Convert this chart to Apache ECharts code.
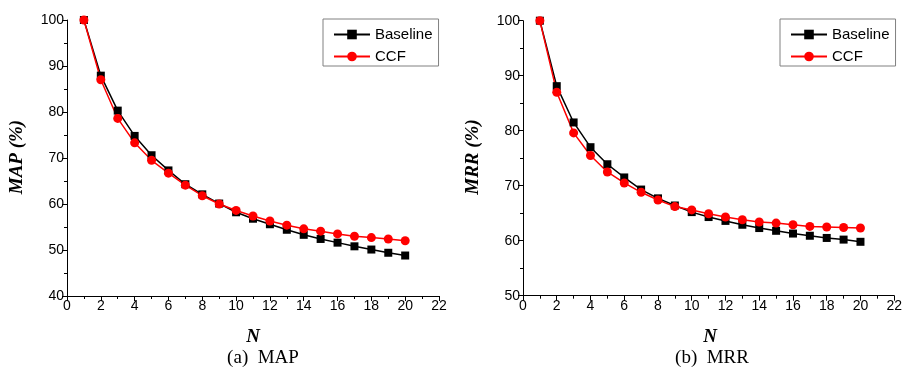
<!DOCTYPE html>
<html>
<head>
<meta charset="utf-8">
<script src="https://cdn.jsdelivr.net/npm/echarts@6/dist/echarts.min.js"></script>
<style>
html,body{margin:0;padding:0;background:#fff;}
#c{width:905px;height:373px;}
</style>
</head>
<body>
<div id="c"></div>
<script>
var nValues = [1,2,3,4,5,6,7,8,9,10,11,12,13,14,15,16,17,18,19,20];
var mapBaseline = [100,87.9,80.3,74.8,70.6,67.3,64.3,62.1,60.1,58.2,56.8,55.6,54.4,53.3,52.4,51.6,50.8,50.1,49.4,48.8];
var mapCCF      = [100,87.0,78.6,73.3,69.5,66.7,64.1,61.8,60.0,58.6,57.4,56.3,55.4,54.6,54.1,53.5,53.0,52.7,52.4,52.0];
var mrrBaseline = [100,88.1,81.5,77.0,73.9,71.5,69.3,67.7,66.4,65.2,64.3,63.6,62.9,62.3,61.8,61.3,60.9,60.5,60.2,59.8];
var mrrCCF      = [100,87.0,79.6,75.5,72.5,70.5,68.8,67.4,66.2,65.6,64.9,64.3,63.8,63.4,63.2,62.9,62.6,62.5,62.4,62.3];
var xTicks = {min:0, max:22, interval:2};
var mapTicks = {min:40, max:100, interval:10};
var mrrTicks = {min:50, max:100, interval:10};
var seriesNames = ['Baseline','CCF'];
var titles = {leftY:'MAP (%)', rightY:'MRR (%)', x:'N', leftCap:'(a)  MAP', rightCap:'(b)  MRR'};

function pairs(arr){ return arr.map(function(v,i){ return [nValues[i], v]; }); }

var chart = echarts.init(document.getElementById('c'), null, {renderer:'canvas'});
var labelFont = {color:'#000', fontFamily:'Liberation Sans, Arial', fontSize:14};
function xAxis(idx){
  return {type:'value', gridIndex:idx, min:xTicks.min, max:xTicks.max, interval:xTicks.interval,
    axisLine:{lineStyle:{color:'#000',width:1}}, axisTick:{length:5,lineStyle:{color:'#000'}},
    minorTick:{show:true,splitNumber:2,length:3,lineStyle:{color:'#000'}},
    splitLine:{show:false}, axisLabel:Object.assign({margin:3}, labelFont)};
}
function yAxis(idx, t){
  return {type:'value', gridIndex:idx, min:t.min, max:t.max, interval:t.interval,
    axisLine:{show:true,lineStyle:{color:'#000',width:1}}, axisTick:{show:true,length:5,lineStyle:{color:'#000'}},
    minorTick:{show:true,splitNumber:2,length:3,lineStyle:{color:'#000'}},
    splitLine:{show:false}, axisLabel:Object.assign({margin:3}, labelFont)};
}
function line(name, data, gi, color, symbol, size){
  return {name:name, type:'line', xAxisIndex:gi, yAxisIndex:gi, data:pairs(data),
    symbol:symbol, symbolSize:size, showSymbol:true,
    lineStyle:{color:color,width:1.5}, itemStyle:{color:color}, animation:false};
}
function legend(left, idx){
  return {show:true, orient:'vertical', left:left, top:19,
    data:seriesNames.map(function(n){return {name:n};}),
    itemWidth:36, itemHeight:12, itemGap:7, padding:[8,6,2,10],
    borderColor:'#808080', borderWidth:1,
    textStyle:{color:'#000', fontFamily:'Liberation Sans, Arial', fontSize:15, padding:[0,0,0,0]},
    selectedMode:false};
}
var serifBI = {fontFamily:'Liberation Serif, Times New Roman', fontWeight:'bold', fontStyle:'italic', fontSize:19, fill:'#000'};
var serif = {fontFamily:'Liberation Serif, Times New Roman', fontSize:19, fill:'#000'};
chart.setOption({
  backgroundColor:'#fff',
  animation:false,
  grid:[{left:67, top:20, width:372, height:276},
        {left:523, top:20.7, width:374, height:275}],
  xAxis:[xAxis(0), xAxis(1)],
  yAxis:[yAxis(0,mapTicks), yAxis(1,mrrTicks)],
  legend:[legend(323,0), legend(780,1)],
  series:[
    line(seriesNames[0], mapBaseline, 0, '#000000', 'rect', 8),
    line(seriesNames[1], mapCCF, 0, '#ff0000', 'circle', 9),
    line(seriesNames[0], mrrBaseline, 1, '#000000', 'rect', 8),
    line(seriesNames[1], mrrCCF, 1, '#ff0000', 'circle', 9)
  ],
  graphic:[
    {type:'text', x:17, y:157, rotation:Math.PI/2, style:Object.assign({text:titles.leftY, align:'center', verticalAlign:'middle'}, serifBI)},
    {type:'text', x:473, y:157, rotation:Math.PI/2, style:Object.assign({text:titles.rightY, align:'center', verticalAlign:'middle'}, serifBI)},
    {type:'text', x:253, y:337, style:Object.assign({text:titles.x, align:'center', verticalAlign:'middle'}, serifBI)},
    {type:'text', x:710, y:337, style:Object.assign({text:titles.x, align:'center', verticalAlign:'middle'}, serifBI)},
    {type:'text', x:263, y:358, style:Object.assign({text:titles.leftCap, align:'center', verticalAlign:'middle'}, serif)},
    {type:'text', x:712, y:358, style:Object.assign({text:titles.rightCap, align:'center', verticalAlign:'middle'}, serif)}
  ]
});
</script>
</body>
</html>
